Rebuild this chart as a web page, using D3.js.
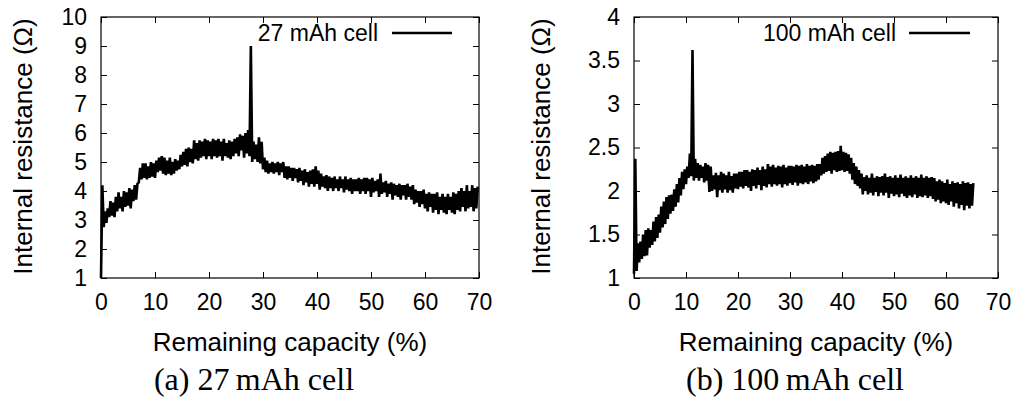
<!DOCTYPE html>
<html>
<head>
<meta charset="utf-8">
<script src="https://cdn.jsdelivr.net/npm/d3@7"></script>
<style>
  html, body { margin: 0; padding: 0; background: #fff; }
  svg { display: block; }
  text { font-family: "Liberation Sans", Arial, Helvetica, sans-serif; fill: #000; }
  .caption { font-family: "Liberation Serif", "Times New Roman", serif; }
</style>
</head>
<body>
<svg id="chart" width="1018" height="400"></svg>
<script>
// ---------------- DATA ----------------
// Panel (a): 27 mAh cell. Sampled every 0.5 % from 0 %, band low / high of the noisy trace (Ω)
const xStartA = 0, xStepA = 0.5;
const lowA = [
  1.0, 2.75, 2.9, 3.1, 3.15, 3.1, 3.3, 3.4, 3.3, 3.45, 3.5, 3.4, 3.65, 3.7,
  4.3, 4.4, 4.45, 4.4, 4.45, 4.5, 4.45, 4.65, 4.7, 4.6, 4.55, 4.6, 4.55, 4.6, 4.7, 4.75,
  4.85, 4.9, 4.85, 5.0, 4.95, 5.1, 5.05, 5.15, 5.2, 5.1, 5.2, 5.1, 5.2, 5.15, 5.2, 5.05,
  5.2, 5.15, 5.1, 5.2, 5.3, 5.2, 5.4, 5.15, 5.3, 5.2, 5.0, 5.1, 5.0, 4.95,
  4.75, 4.65, 4.6, 4.65, 4.6, 4.65, 4.55, 4.65, 4.45, 4.4, 4.45, 4.35, 4.45, 4.3, 4.35, 4.2,
  4.3, 4.15, 4.25, 4.15, 4.25, 4.05, 4.15, 4.1, 4.0, 4.1, 4.0, 4.1, 4.0, 4.1, 3.95, 4.05,
  4.0, 3.9, 4.0, 4.0, 3.9, 4.0, 3.9, 4.0, 3.8, 3.95, 4.0, 3.8, 3.9, 3.95, 3.8, 3.9,
  3.7, 3.85, 3.8, 3.7, 3.85, 3.7, 3.8, 3.7, 3.55, 3.6, 3.45, 3.55, 3.4, 3.3, 3.45, 3.25,
  3.35, 3.2, 3.35, 3.25, 3.2, 3.35, 3.25, 3.2, 3.35, 3.3, 3.45, 3.3, 3.4, 3.45, 3.3, 3.4
];
const highA = [
  4.2, 3.3, 3.4, 3.65, 3.6, 3.8, 3.95, 3.8, 4.0, 3.95, 4.1, 4.05, 4.2, 4.25,
  4.8, 4.95, 4.95, 4.85, 5.0, 4.95, 5.05, 5.15, 5.2, 5.15, 5.05, 5.15, 5.0, 5.1, 5.05, 5.25,
  5.35, 5.45, 5.5, 5.45, 5.75, 5.65, 5.75, 5.7, 5.8, 5.75, 5.7, 5.8, 5.75, 5.8, 5.7, 5.8,
  5.65, 5.75, 5.7, 5.8, 5.85, 5.95, 5.9, 6.0, 6.1, 9.0, 5.7, 5.6, 5.85, 5.7,
  5.15, 5.05, 4.95, 5.0, 4.95, 5.0, 4.95, 5.0, 4.85, 4.85, 4.8, 4.8, 4.75, 4.8, 4.7, 4.75,
  4.65, 4.7, 4.75, 4.85, 4.7, 4.6, 4.5, 4.55, 4.5, 4.45, 4.5, 4.4, 4.5, 4.4, 4.5, 4.4,
  4.45, 4.4, 4.4, 4.45, 4.4, 4.45, 4.45, 4.4, 4.45, 4.35, 4.4, 4.6, 4.3, 4.35, 4.25, 4.3,
  4.25, 4.2, 4.25, 4.2, 4.2, 4.25, 4.15, 4.2, 4.05, 4.0, 4.0, 4.05, 3.9, 3.95, 3.9, 3.9,
  3.95, 3.8, 3.9, 3.8, 3.9, 3.8, 3.95, 3.9, 4.0, 4.1, 4.0, 4.2, 4.0, 4.2, 4.1, 4.15
];

// Panel (b): 100 mAh cell. Sampled every 0.5 % from 0 %, band low / high (Ω)
const xStartB = 0, xStepB = 0.5;
const lowB = [
  1.05, 1.08, 1.18, 1.22, 1.25, 1.26, 1.35, 1.38, 1.42, 1.46, 1.52, 1.58, 1.62, 1.68,
  1.74, 1.77, 1.82, 1.87, 1.95, 2.02, 2.08, 2.15, 2.17, 2.12, 2.15, 2.12, 2.15, 2.10,
  2.12, 1.99, 2.00, 2.02, 1.93, 2.01, 1.98, 2.02, 1.98, 2.01, 1.98, 2.03, 2.02, 2.05,
  2.03, 2.06, 2.04, 2.00, 2.06, 2.03, 2.07, 2.01, 2.06, 2.04, 2.08, 2.05, 2.08, 2.06,
  2.08, 2.04, 2.08, 2.06, 2.09, 2.07, 2.10, 2.06, 2.09, 2.08, 2.10, 2.08, 2.11, 2.09,
  2.11, 2.13, 2.18, 2.20, 2.22, 2.23, 2.20, 2.24, 2.22, 2.23, 2.24, 2.22, 2.23, 2.20,
  2.13, 2.08, 2.06, 2.03, 1.96, 2.00, 1.96, 1.98, 1.95, 1.99, 1.94, 1.98, 1.95, 1.98,
  1.92, 1.97, 1.94, 1.96, 1.93, 1.97, 1.94, 1.92, 1.95, 1.93, 1.96, 1.92, 1.94, 1.93,
  1.95, 1.92, 1.94, 1.91, 1.88, 1.90, 1.86, 1.88, 1.86, 1.84, 1.88, 1.82, 1.86, 1.80,
  1.84, 1.78, 1.83, 1.80, 1.83
];
const highB = [
  2.37, 1.40, 1.42, 1.50, 1.55, 1.57, 1.55, 1.65, 1.70, 1.73, 1.82, 1.88, 1.93, 1.95,
  1.96, 2.02, 2.08, 2.15, 2.22, 2.25, 2.28, 2.43, 3.62, 2.37, 2.32, 2.30, 2.28, 2.32,
  2.30, 2.28, 2.18, 2.21, 2.18, 2.22, 2.20, 2.18, 2.22, 2.17, 2.20, 2.20, 2.22, 2.22,
  2.24, 2.24, 2.22, 2.25, 2.24, 2.27, 2.24, 2.28, 2.25, 2.31, 2.28, 2.30, 2.27, 2.29,
  2.28, 2.30, 2.27, 2.29, 2.29, 2.28, 2.30, 2.29, 2.30, 2.28, 2.31, 2.29, 2.30, 2.29,
  2.31, 2.31, 2.38, 2.40, 2.43, 2.45, 2.44, 2.45, 2.46, 2.52, 2.45, 2.44, 2.42, 2.38,
  2.32, 2.28, 2.24, 2.20, 2.16, 2.18, 2.15, 2.20, 2.15, 2.17, 2.16, 2.17, 2.20, 2.16,
  2.17, 2.15, 2.18, 2.15, 2.19, 2.15, 2.17, 2.15, 2.18, 2.15, 2.17, 2.15, 2.19, 2.15,
  2.17, 2.15, 2.16, 2.15, 2.11, 2.13, 2.11, 2.09, 2.13, 2.08, 2.11, 2.09, 2.10, 2.08,
  2.11, 2.09, 2.10, 2.08, 2.09
];

const xTicks = [0, 10, 20, 30, 40, 50, 60, 70];
const yTicksA = [1, 2, 3, 4, 5, 6, 7, 8, 9, 10];
const yTicksB = [1, 1.5, 2, 2.5, 3, 3.5, 4];
const seriesNameA = "27 mAh cell";
const seriesNameB = "100 mAh cell";
const captionA = "(a) 27\u2009mAh cell";
const captionB = "(b) 100\u2009mAh cell";
const xTitle = "Remaining capacity (%)";
const yTitle = "Internal resistance (\u03A9)";

// ---------------- DRAW ----------------
const svg = d3.select("#chart");

function panel(opt) {
  const { left, right, top, bottom, xDomain, yDomain, yTicks, low, high, xStart, xStep,
          name, caption, yTitleX, captionX, legendTextX, legendLine } = opt;
  const x = d3.scaleLinear().domain(xDomain).range([left, right]);
  const y = d3.scaleLinear().domain(yDomain).range([bottom, top]);
  const g = svg.append("g");
  const tick = 6;
  const fmt = d3.format("~g");

  // bottom axis (inward ticks + labels)
  const ax = g.append("g").attr("transform", `translate(0,${bottom})`)
    .call(d3.axisBottom(x).tickValues(xTicks).tickSize(-tick).tickFormat(fmt));
  ax.select(".domain").remove();
  ax.selectAll("text").style("font-size", "23px").attr("dy", "0.78em").attr("y", 14);
  // top mirrored ticks
  const at = g.append("g").attr("transform", `translate(0,${top})`)
    .call(d3.axisTop(x).tickValues(xTicks).tickSize(-tick).tickFormat(""));
  at.select(".domain").remove();
  // left axis
  const ay = g.append("g").attr("transform", `translate(${left},0)`)
    .call(d3.axisLeft(y).tickValues(yTicks).tickSize(-tick).tickFormat(fmt));
  ay.select(".domain").remove();
  ay.selectAll("text").style("font-size", "23px").attr("x", -14);
  // right mirrored ticks
  const ar = g.append("g").attr("transform", `translate(${right},0)`)
    .call(d3.axisRight(y).tickValues(yTicks).tickSize(-tick).tickFormat(""));
  ar.select(".domain").remove();
  g.selectAll(".tick line").attr("stroke", "#000").attr("stroke-width", 1);
  g.selectAll(".tick text").attr("fill", "#000").style("font-family", '"Liberation Sans", Arial, sans-serif');

  // frame
  g.append("rect").attr("x", left).attr("y", top).attr("width", right - left).attr("height", bottom - top)
    .attr("fill", "none").attr("stroke", "#000").attr("stroke-width", 1.2);

  // data: trace zig-zags between band low and high values
  const pts = [];
  low.forEach((v, i) => {
    const xv = xStart + i * xStep;
    pts.push([xv, v]);
    pts.push([xv + xStep / 2, high[i]]);
  });
  const line = d3.line().x(d => x(d[0])).y(d => y(d[1]));
  g.append("path").datum(pts).attr("d", line)
    .attr("fill", "none").attr("stroke", "#000").attr("stroke-width", 2.6).attr("stroke-linejoin", "miter")
    .attr("stroke-miterlimit", 2);

  // legend
  g.append("text").attr("x", legendTextX).attr("y", 41).attr("text-anchor", "end")
    .style("font-size", "23px").text(name);
  g.append("line").attr("x1", legendLine[0]).attr("x2", legendLine[1]).attr("y1", 33).attr("y2", 33)
    .attr("stroke", "#000").attr("stroke-width", 2.4);

  // axis titles
  g.append("text").attr("x", (left + right) / 2).attr("y", 351).attr("text-anchor", "middle")
    .style("font-size", "26px").text(xTitle);
  g.append("text").attr("transform", `translate(${yTitleX},${(top + bottom) / 2 - 1}) rotate(-90)`)
    .attr("text-anchor", "middle").attr("dy", "0.35em").style("font-size", "26px").text(yTitle);
  // caption
  g.append("text").attr("class", "caption").attr("x", captionX).attr("y", 390)
    .attr("text-anchor", "middle").style("font-size", "32px").text(caption);
}

panel({ left: 101, right: 479, top: 17, bottom: 278, xDomain: [0, 70], yDomain: [1, 10],
  yTicks: yTicksA, low: lowA, high: highA, xStart: xStartA, xStep: xStepA,
  name: seriesNameA, caption: captionA, yTitleX: 23, captionX: 254,
  legendTextX: 378, legendLine: [392, 452] });
panel({ left: 634, right: 998, top: 17, bottom: 278, xDomain: [0, 70], yDomain: [1, 4],
  yTicks: yTicksB, low: lowB, high: highB, xStart: xStartB, xStep: xStepB,
  name: seriesNameB, caption: captionB, yTitleX: 541, captionX: 795,
  legendTextX: 896, legendLine: [909, 970] });
</script>
</body>
</html>
